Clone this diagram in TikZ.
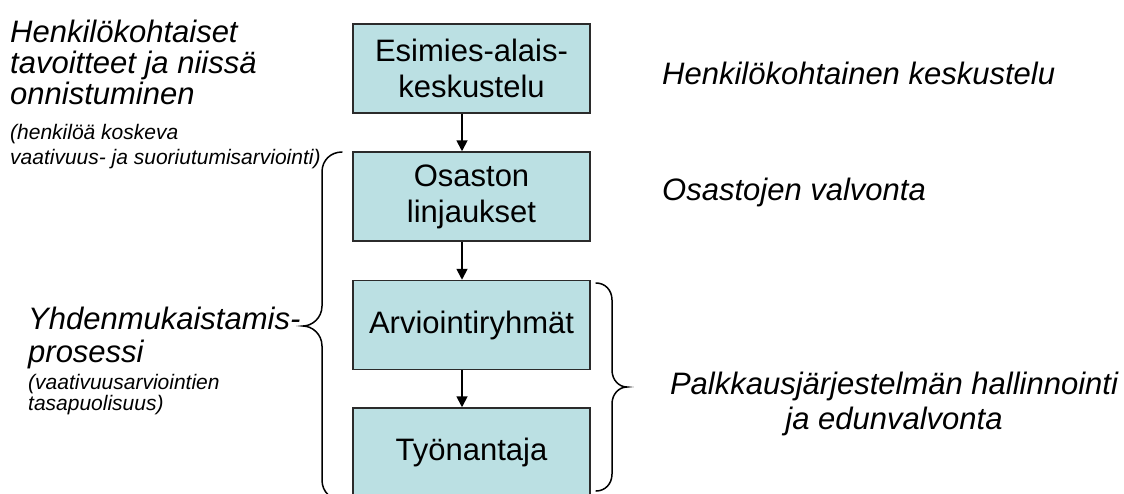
\documentclass[tikz,border=0pt]{standalone}
\usepackage{fontspec}
\setmainfont{Liberation Sans}
\usetikzlibrary{arrows.meta}
\definecolor{boxfill}{HTML}{BBE0E3}
\definecolor{boxline}{HTML}{2B2B2B}
\begin{document}
\begin{tikzpicture}[x=1pt,y=-1pt,
  stepbox/.style={draw=boxline, line width=1.5pt, fill=boxfill, minimum width=237pt, minimum height=89pt, inner sep=0pt, align=center, font=\fontsize{31}{36}\selectfont},
  flow/.style={line width=1.8pt, -{Triangle[width=11pt,length=11pt]}},
  bracket/.style={line width=1.5pt, line cap=round},
  bigtext/.style={inner sep=0pt, align=left, font=\fontsize{31}{31}\selectfont\itshape},
  smalltext/.style={inner sep=0pt, align=left, font=\fontsize{21}{21}\selectfont\itshape},
]
\useasboundingbox (0,0) rectangle (1124,493);
\clip (0,0) rectangle (1124,493);

% boxes
\node[stepbox] (b1) at (471.5,68.5) {Esimies-alais-\\keskustelu};
\node[stepbox] (b2) at (471.5,196.5) {Osaston\\linjaukset};
\node[stepbox] (b3) at (471.5,325) {Arviointiryhmät};
\node[stepbox] (b4) at (471.5,452.5) {Työnantaja};

% arrows
\coordinate (ax) at (462,0);
\draw[flow] (b1.south -| ax) -- (b2.north -| ax);
\draw[flow] (b2.south -| ax) -- (b3.north -| ax);
\draw[flow] (b3.south -| ax) -- (b4.north -| ax);

% left brace
\draw[bracket] (342,152) .. controls (331,152) and (322,160) .. (322,172)
  -- (322,306) .. controls (322,318) and (312,326) .. (303,326)
  .. controls (312,326) and (322,334) .. (322,346)
  -- (322,480) .. controls (322,492) and (331,500) .. (342,500);

% right brace
\draw[bracket] (596,283) .. controls (605,283) and (612,290) .. (612,300)
  -- (612,370) .. controls (612,380) and (619,387) .. (627,387)
  .. controls (619,387) and (612,394) .. (612,404)
  -- (612,474) .. controls (612,484) and (605,491) .. (596,491);

% left texts
\node[bigtext, anchor=north west] (lt1) at (10,20) {Henkilökohtaiset\\tavoitteet ja niissä\\onnistuminen};
\node[smalltext, font=\fontsize{21}{25}\selectfont\itshape, anchor=north west] (lt2) at (10,124) {(henkilöä koskeva\\vaativuus- ja suoriutumisarviointi)};
\node[bigtext, font=\fontsize{31}{33}\selectfont\itshape, anchor=north west] (lb1) at (28,307) {Yhdenmukaistamis-\\prosessi};
\node[smalltext, anchor=north west] (lb2) at (28,374) {(vaativuusarviointien\\tasapuolisuus)};

% right texts
\node[bigtext, anchor=base west] (rt1) at (662,84) {Henkilökohtainen keskustelu};
\node[bigtext, anchor=base west] (rt2) at (662,200) {Osastojen valvonta};
\node[bigtext, font=\fontsize{31}{35}\selectfont\itshape, align=center, anchor=north] (rt3) at (894,372) {Palkkausjärjestelmän hallinnointi\\ja edunvalvonta};
\end{tikzpicture}
\end{document}
